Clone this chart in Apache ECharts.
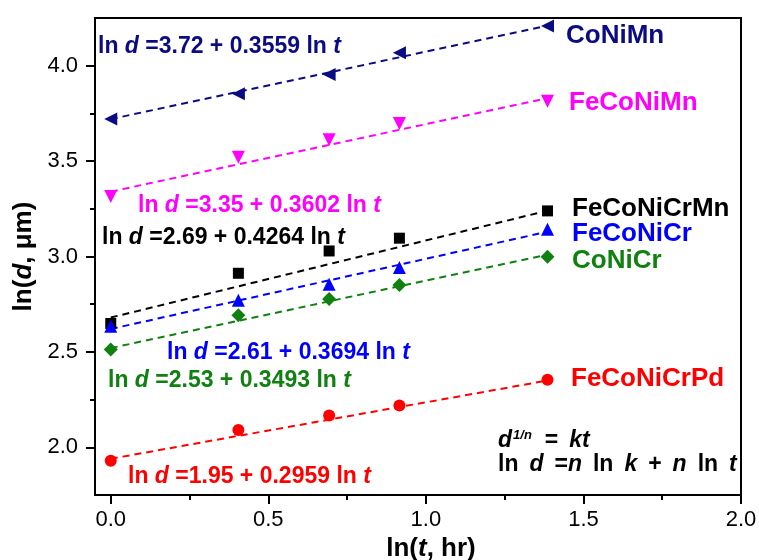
<!DOCTYPE html>
<html>
<head>
<meta charset="utf-8">
<script src="https://cdn.jsdelivr.net/npm/echarts@6/dist/echarts.min.js"></script>
<style>html,body{margin:0;padding:0;background:#fff}#c{width:759px;height:560px}</style>
</head>
<body>
<div id="c"></div>
<script>
// ln(t, hr) for t = 1, 1.5, 2, 2.5, 4 hr
const xVals = [0, 0.405, 0.693, 0.916, 1.386];
const coNiMn = [3.72, 3.853, 3.954, 4.068, 4.208];
const feCoNiMn = [3.314, 3.52, 3.612, 3.697, 3.814];
const feCoNiCrMn = [2.649, 2.912, 3.029, 3.096, 3.239];
const feCoNiCr = [2.635, 2.771, 2.854, 2.943, 3.143];
const coNiCr = [2.512, 2.692, 2.777, 2.85, 2.999];
const feCoNiCrPd = [1.93, 2.091, 2.167, 2.219, 2.354];
// fitted lines, read at the ends x = 0 and x = 1.386
const fitX = [0, 1.386];
const fitCoNiMn = [3.72, 4.21];
const fitFeCoNiMn = [3.34, 3.83];
const fitFeCoNiCrMn = [2.68, 3.24];
const fitFeCoNiCr = [2.62, 3.13];
const fitCoNiCr = [2.52, 3.01];
const fitFeCoNiCrPd = [1.94, 2.35];
const seriesNames = ['CoNiMn','FeCoNiMn','FeCoNiCrMn','FeCoNiCr','CoNiCr','FeCoNiCrPd'];
const intercepts = ['3.72','3.35','2.69','2.61','2.53','1.95'];
const slopes = ['0.3559','0.3602','0.4264','0.3694','0.3493','0.2959'];
const xMajor = [0, 0.5, 1.0, 1.5, 2.0];
const xMinor = [0.25, 0.75, 1.25, 1.75];
const yMajor = [2.0, 2.5, 3.0, 3.5, 4.0];
const yMinor = [2.25, 2.75, 3.25, 3.75];

const FONT = 'Arial, "Liberation Sans", sans-serif';
const SP = ' \u2009';
const colors = ['#0b0b82', '#ff00ff', '#000000', '#0000ff', '#108010', '#ff0000'];
const pts = [coNiMn, feCoNiMn, feCoNiCrMn, feCoNiCr, coNiCr, feCoNiCrPd];
const fits = [fitCoNiMn, fitFeCoNiMn, fitFeCoNiCrMn, fitFeCoNiCr, fitCoNiCr, fitFeCoNiCrPd];
const symbols = [['triangle', 90, 13], ['triangle', 180, 13], ['rect', 0, 11], ['triangle', 0, 13], ['diamond', 0, 14], ['circle', 0, 12]];

const series = [];
pts.forEach((arr, i) => {
  series.push({
    type: 'line', name: seriesNames[i] + ' fit',
    data: fitX.map((x, j) => [x, fits[i][j]]),
    showSymbol: false, symbol: 'none', silent: true,
    lineStyle: { color: colors[i], width: 2, type: [7, 5] }, z: 2
  });
  series.push({
    type: 'scatter', name: seriesNames[i],
    data: xVals.map((x, j) => [x, arr[j]]),
    symbol: symbols[i][0], symbolRotate: symbols[i][1], symbolSize: symbols[i][2],
    itemStyle: { color: colors[i], opacity: 1 }, z: 3
  });
});

// annotation placement (pixels)
const namePos = [[566, 36], [569, 103], [572, 209], [572, 234], [572, 261], [571, 379]];
const eqPos = [[98, 47], [138, 206], [102, 238], [167, 353], [108, 381], [128, 477]];

const graphics = [];
seriesNames.forEach((n, i) => {
  graphics.push({
    type: 'text', x: namePos[i][0], y: namePos[i][1],
    style: { text: n, fill: colors[i], font: 'bold 26px ' + FONT, verticalAlign: 'middle', align: 'left' }
  });
  graphics.push({
    type: 'text', x: eqPos[i][0], y: eqPos[i][1],
    style: {
      text: '{b|ln }{i|d}{b| =' + intercepts[i] + ' + ' + slopes[i] + ' ln }{i|t}',
      verticalAlign: 'middle', align: 'left',
      rich: {
        b: { fill: colors[i], font: 'bold 23px ' + FONT },
        i: { fill: colors[i], font: 'italic bold 23px ' + FONT }
      }
    }
  });
});
graphics.push({
  type: 'text', x: 498, y: 441,
  style: {
    text: '{i|d}{s|1/n}{b|' + SP + '=' + SP + '}{i|kt}', verticalAlign: 'middle', align: 'left',
    rich: {
      b: { fill: '#000', font: 'bold 23px ' + FONT },
      i: { fill: '#000', font: 'italic bold 23px ' + FONT },
      s: { fill: '#000', font: 'italic bold 13px ' + FONT, verticalAlign: 'top', padding: [0, 2, 12, 1] }
    }
  }
});
graphics.push({
  type: 'text', x: 498, y: 465,
  style: {
    text: '{b|ln' + SP + '}{i|d}{b|' + SP + '=}{i|n}{b|' + SP + 'ln' + SP + '}{i|k}{b|' + SP + '+' + SP + '}{i|n}{b|' + SP + 'ln' + SP + '}{i|t}',
    verticalAlign: 'middle', align: 'left',
    rich: {
      b: { fill: '#000', font: 'bold 23px ' + FONT },
      i: { fill: '#000', font: 'italic bold 23px ' + FONT }
    }
  }
});

const axisLineStyle = { color: '#000', width: 2 };
const chart = echarts.init(document.getElementById('c'));
chart.setOption({
  backgroundColor: '#ffffff',
  animation: false,
  textStyle: { fontFamily: FONT },
  grid: { left: 95, right: 18, top: 18, bottom: 65, show: true, borderColor: '#000', borderWidth: 2,
    backgroundColor: 'transparent', containLabel: false, outerBoundsMode: 'none' },
  xAxis: [{
    type: 'value', min: -0.05, max: 2.0, position: 'bottom',
    name: '{b|ln(}{i|t}{b|, hr)}', nameLocation: 'middle', nameGap: 38,
    nameTextStyle: { padding: [0, 0, 0, 26], rich: {
      b: { fontSize: 26, fontWeight: 'bold', color: '#000', fontFamily: FONT },
      i: { fontSize: 26, fontWeight: 'bold', fontStyle: 'italic', color: '#000', fontFamily: FONT } } },
    axisLine: { show: true, onZero: false, lineStyle: axisLineStyle },
    axisTick: { show: true, inside: false, length: 9, lineStyle: axisLineStyle, customValues: xMajor },
    axisLabel: { customValues: xMajor, fontSize: 22, color: '#000', margin: 14, fontFamily: FONT,
      formatter: v => v.toFixed(1) },
    splitLine: { show: false }
  }, {
    type: 'value', min: -0.05, max: 2.0, position: 'bottom',
    axisLine: { show: false, onZero: false },
    axisTick: { show: true, inside: false, length: 5, lineStyle: axisLineStyle, customValues: xMinor },
    axisLabel: { show: false }, splitLine: { show: false }
  }],
  yAxis: [{
    type: 'value', min: 1.75, max: 4.25, position: 'left',
    name: '{b|ln(}{i|d}{b|, μm)}', nameLocation: 'middle', nameGap: 57, nameRotate: 90,
    nameTextStyle: { rich: {
      b: { fontSize: 26, fontWeight: 'bold', color: '#000', fontFamily: FONT },
      i: { fontSize: 26, fontWeight: 'bold', fontStyle: 'italic', color: '#000', fontFamily: FONT } } },
    axisLine: { show: true, onZero: false, lineStyle: axisLineStyle },
    axisTick: { show: true, inside: false, length: 9, lineStyle: axisLineStyle, customValues: yMajor },
    axisLabel: { customValues: yMajor, fontSize: 22, color: '#000', margin: 17, fontFamily: FONT,
      formatter: v => v.toFixed(1) },
    splitLine: { show: false }
  }, {
    type: 'value', min: 1.75, max: 4.25, position: 'left',
    axisLine: { show: false, onZero: false },
    axisTick: { show: true, inside: false, length: 5, lineStyle: axisLineStyle, customValues: yMinor },
    axisLabel: { show: false }, splitLine: { show: false }
  }],
  series: series,
  graphic: graphics
});
</script>
</body>
</html>
